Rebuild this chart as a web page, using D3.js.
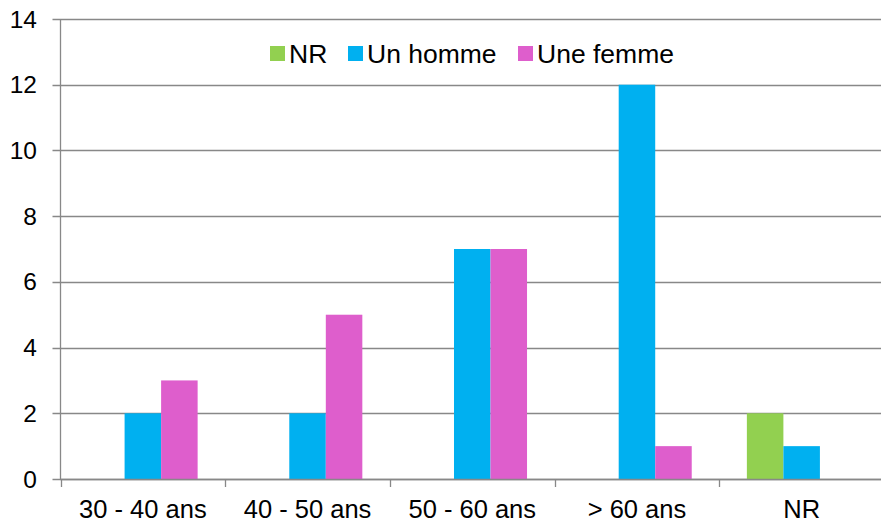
<!DOCTYPE html>
<html lang="en">
<head>
<meta charset="utf-8">
<title>Ages</title>
<style>
  body { margin: 0; background: #fff; }
  svg { display: block; font-family: "Liberation Sans", Arial, sans-serif; }
</style>
<script src="https://cdn.jsdelivr.net/npm/d3@7"></script>
</head>
<body>
<script>
// data
var categories = ["30 - 40 ans", "40 - 50 ans", "50 - 60 ans", "> 60 ans", "NR"];
var seriesNames = ["NR", "Un homme", "Une femme"];
var valuesNR    = [0, 0, 0, 0, 2];
var valuesHomme = [2, 2, 7, 12, 1];
var valuesFemme = [3, 5, 7, 1, 0];
var yTicks = [0, 2, 4, 6, 8, 10, 12, 14];
var colors = ["#92d050", "#00b0f0", "#de5ecc"];

var width = 881, height = 526;
var plotL = 60.5, plotR = 884, plotT = 19, plotB = 479;

var svg = d3.select("body").append("svg")
  .attr("width", width)
  .attr("height", height);

var x0 = d3.scaleBand().domain(categories).range([plotL, plotR]).padding(0);
var x1 = d3.scaleBand().domain(seriesNames).range([0, x0.bandwidth()])
  .paddingInner(0).paddingOuter(0.755);
var y = d3.scaleLinear().domain([0, 14]).range([plotB, plotT]);

// gridlines
svg.append("g").selectAll("line").data(yTicks).enter().append("line")
  .attr("x1", plotL - 8).attr("x2", plotR)
  .attr("y1", function(d){ return Math.round(y(d)) + 0.5; })
  .attr("y2", function(d){ return Math.round(y(d)) + 0.5; })
  .style("stroke", "#888").style("stroke-width", 1.3);

// y labels
svg.append("g").selectAll("text").data(yTicks).enter().append("text")
  .attr("x", 37).attr("y", function(d){ return y(d) + 8.5; })
  .attr("text-anchor", "end")
  .style("font-size", "24.5px").style("fill", "#000")
  .text(function(d){ return d; });

// bars
var table = categories.map(function(c, i) {
  return { cat: c, vals: [valuesNR[i], valuesHomme[i], valuesFemme[i]] };
});
var groups = svg.append("g").selectAll("g").data(table).enter().append("g")
  .attr("transform", function(d){ return "translate(" + x0(d.cat) + ",0)"; });
groups.selectAll("rect")
  .data(function(d){ return d.vals.map(function(v, k){ return { s: seriesNames[k], v: v, k: k }; }); })
  .enter().append("rect")
  .filter(function(d){ return d.v > 0; })
  .attr("x", function(d){ return x1(d.s); })
  .attr("width", x1.bandwidth())
  .attr("y", function(d){ return y(d.v); })
  .attr("height", function(d){ return y(0) - y(d.v); })
  .style("fill", function(d){ return colors[d.k]; });

// axes lines
svg.append("line").attr("x1", plotL).attr("x2", plotL).attr("y1", plotT).attr("y2", plotB)
  .style("stroke", "#888").style("stroke-width", 1.3);
svg.append("line").attr("x1", plotL).attr("x2", plotR).attr("y1", plotB + 0.5).attr("y2", plotB + 0.5)
  .style("stroke", "#888").style("stroke-width", 1.3);

// x ticks at band boundaries
var bounds = categories.map(function(c){ return x0(c); }).concat([plotR]);
svg.append("g").selectAll("line").data(bounds).enter().append("line")
  .attr("x1", function(d){ return Math.round(d) + 0.5; })
  .attr("x2", function(d){ return Math.round(d) + 0.5; })
  .attr("y1", plotB).attr("y2", plotB + 8)
  .style("stroke", "#888").style("stroke-width", 1.3);

// x labels
svg.append("g").selectAll("text").data(categories).enter().append("text")
  .attr("x", function(d){ return x0(d) + x0.bandwidth() / 2; })
  .attr("y", 518)
  .attr("text-anchor", "middle")
  .style("font-size", "25.5px").style("fill", "#000")
  .text(function(d){ return d; });

// legend
var legendX = [270, 348, 518];
var leg = svg.append("g").selectAll("g").data(seriesNames).enter().append("g")
  .attr("transform", function(d, i){ return "translate(" + legendX[i] + ",0)"; });
leg.append("rect").attr("x", 0).attr("y", 46).attr("width", 15).attr("height", 15)
  .style("fill", function(d, i){ return colors[i]; });
leg.append("text").attr("x", 19).attr("y", 63)
  .style("font-size", "26.5px").style("fill", "#000")
  .text(function(d){ return d; });
</script>
</body>
</html>
